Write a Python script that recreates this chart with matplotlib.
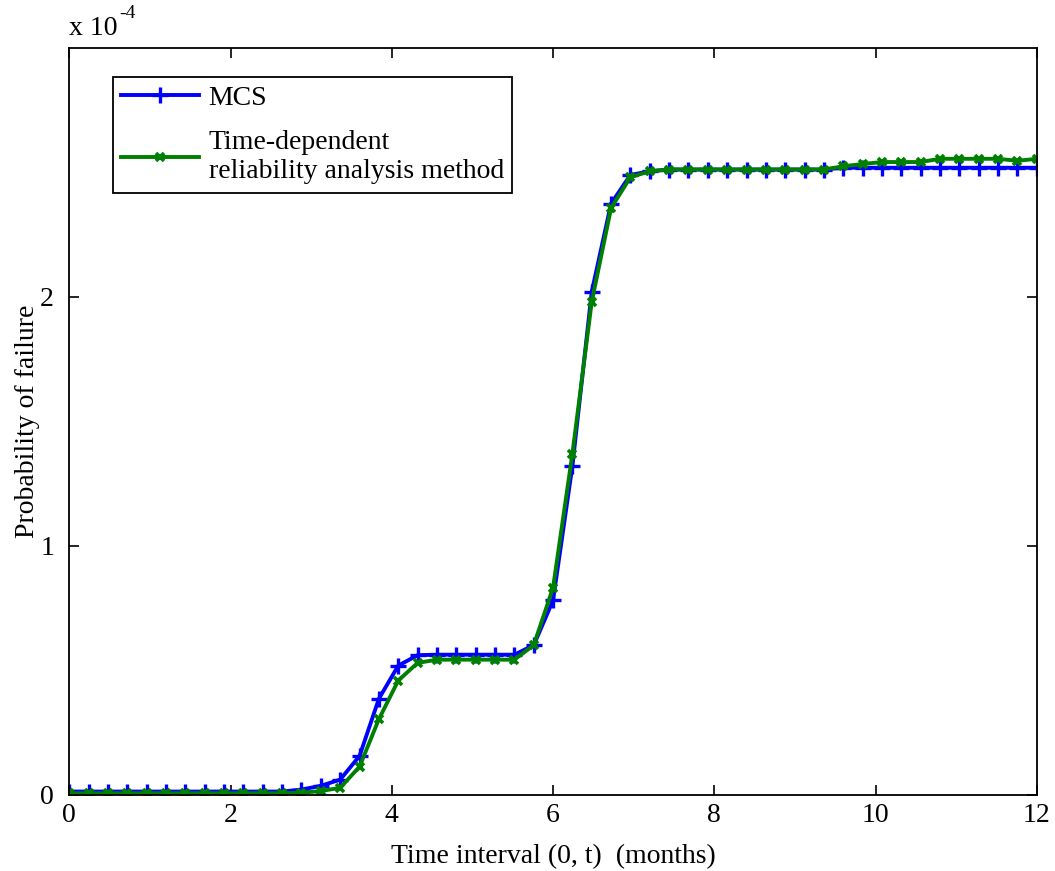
import numpy as np
import matplotlib
matplotlib.use('Agg')
import matplotlib.pyplot as plt

plt.rcParams['font.family'] = ['Liberation Serif', 'DejaVu Serif']

# time grid (months)
t = np.linspace(0, 12, 51)

# probability of failure, in units of 1e-4
pf_mcs = [0.012] * 12 + [0.02, 0.035, 0.06, 0.155, 0.385, 0.518, 0.56,
          0.562, 0.562, 0.562, 0.562, 0.562, 0.60, 0.78, 1.32, 2.02, 2.375,
          2.49, 2.505] + [2.512] * 9 + [2.519] * 11
pf_td = [0.005] * 12 + [0.007, 0.014, 0.027, 0.112, 0.303, 0.458, 0.529,
         0.542, 0.542, 0.542, 0.542, 0.542, 0.60, 0.831, 1.369, 1.98, 2.357,
         2.481, 2.505] + [2.512] * 9 + [2.525, 2.534, 2.542, 2.542, 2.542,
         2.555, 2.555, 2.555, 2.555, 2.547, 2.555]

labels = ['MCS', 'Time-dependent\nreliability analysis method']
xticks = [0, 2, 4, 6, 8, 10, 12]
yticks = [0, 1, 2]

fig = plt.figure(figsize=(10.55, 8.71), dpi=100)
ax = fig.add_axes([0.0657, 0.0878, 0.917, 0.857])

ax.plot(t, pf_mcs, color=(0, 0, 1), lw=2.8, marker='+', ms=12, mew=2.4, label=labels[0])
ax.plot(t, pf_td, color=(0, 0.5, 0), lw=2.8, marker='x', ms=5.5, mew=2.6, label=labels[1])

ax.set_xlim(0, 12)
ax.set_ylim(0, 3)
ax.set_xticks(xticks)
ax.set_yticks(yticks)
ax.set_xticklabels([str(v) for v in xticks])
ax.set_yticklabels([str(v) for v in yticks])
ax.tick_params(axis='both', direction='in', length=7, width=1.2, labelsize=20,
               top=True, right=True)
ax.tick_params(axis='x', pad=6)
ax.tick_params(axis='y', pad=11)
for s in ax.spines.values():
    s.set_linewidth(1.3)

ax.set_xlabel('Time interval (0, t)  (months)', fontsize=20, labelpad=12)
ax.set_ylabel('Probability of failure', fontsize=20, labelpad=0)

# MATLAB-style exponent label
ax.text(0.0, 1.01, 'x 10', transform=ax.transAxes, fontsize=20, ha='left', va='bottom')
ax.text(0.052, 1.035, '-4', transform=ax.transAxes, fontsize=14, ha='left', va='bottom')

leg = ax.legend(loc='upper left', bbox_to_anchor=(0.045, 0.961), borderaxespad=0,
                fontsize=20, fancybox=False, framealpha=1, edgecolor='black',
                handlelength=2.8, handletextpad=0.35, labelspacing=0.7,
                borderpad=0.3)
leg.get_frame().set_linewidth(1.3)

fig.savefig('out.png', dpi=100)
